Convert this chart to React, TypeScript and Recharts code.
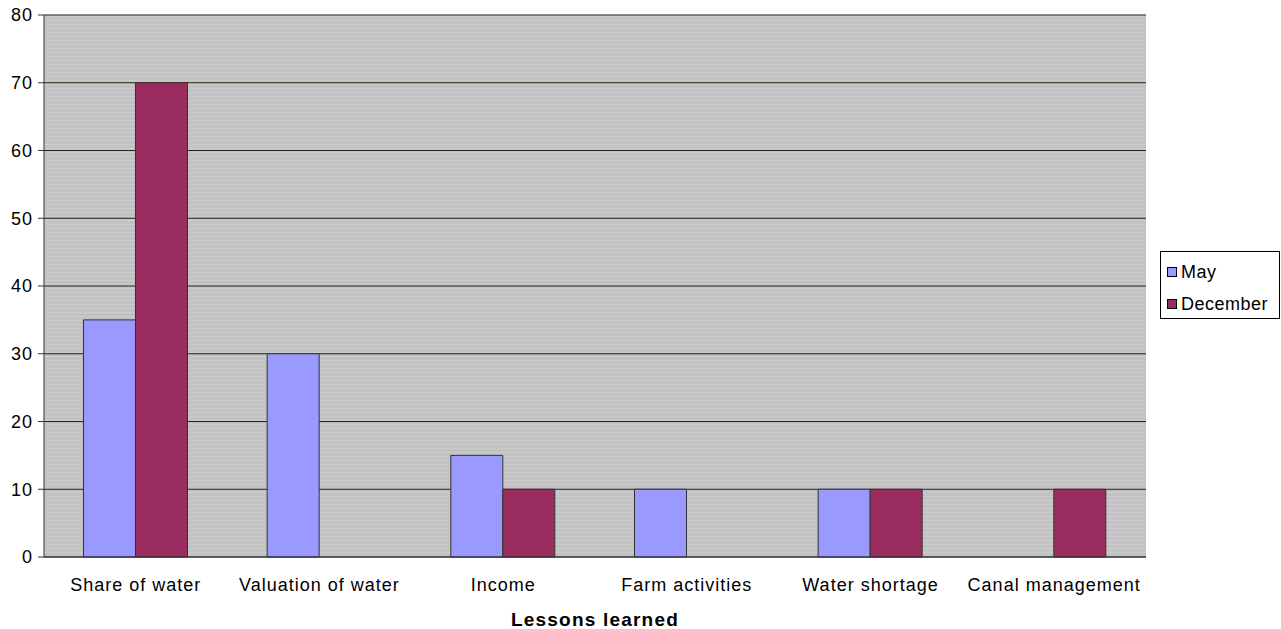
import React from 'react';
import {
  BarChart,
  Bar,
  XAxis,
  YAxis,
  CartesianGrid,
} from 'recharts';

const lessons = [
  'Share of water',
  'Valuation of water',
  'Income',
  'Farm activities',
  'Water shortage',
  'Canal management',
];
const mayValues = [35, 30, 15, 10, 10, 0];
const decemberValues = [70, 0, 10, 0, 10, 10];
const yTicks = [0, 10, 20, 30, 40, 50, 60, 70, 80];
const edgeTicks = [0, 1, 2, 3, 4, 5, 6];

const series = [
  { key: 'may', name: 'May', color: '#9999ff' },
  { key: 'december', name: 'December', color: '#9b2c5f' },
];

const data = lessons.map((name, i) => ({
  name,
  may: mayValues[i],
  december: decemberValues[i],
}));

const font = 'Arial, "Liberation Sans", sans-serif';
const tickStyle = { fill: '#000', fontSize: 18, fontFamily: font, letterSpacing: 1 };

export default function App() {
  return (
    <div style={{ position: 'relative', width: 1281, height: 629, background: '#fff' }}>
      <style>{'body{margin:0}'}</style>
      <BarChart
        width={1281}
        height={629}
        data={data}
        margin={{ top: 15, right: 135, bottom: 0, left: 0 }}
        barCategoryGap="21.5%"
        barGap={0}
      >
        <defs>
          <pattern id="stripes" width="4" height="4" patternUnits="userSpaceOnUse">
            <rect width="4" height="4" fill="#c4c4c5" />
            <rect width="4" height="1" fill="#cbcbc3" />
            <rect y="2" width="4" height="1" fill="#bfbfc9" />
          </pattern>
        </defs>
        <CartesianGrid
          vertical={false}
          stroke="#222"
          strokeWidth={1}
          fill="url(#stripes)"
          fillOpacity={1}
        />
        <XAxis
          dataKey="name"
          tick={tickStyle}
          tickLine={false}
          axisLine={{ stroke: '#333' }}
          interval={0}
          tickMargin={15}
          height={72}
          label={{
            value: 'Lessons learned',
            position: 'insideBottom',
            offset: 3,
            style: {
              fill: '#000',
              fontSize: 19,
              fontWeight: 'bold',
              fontFamily: font,
              letterSpacing: 1.2,
            },
          }}
        />
        <XAxis
          xAxisId="edges"
          type="number"
          domain={[0, 6]}
          ticks={edgeTicks}
          tick={false}
          tickSize={5}
          tickLine={{ stroke: '#333' }}
          axisLine={false}
          height={0}
        />
        <YAxis
          domain={[0, 80]}
          ticks={yTicks}
          width={44}
          tick={tickStyle}
          tickSize={6}
          tickMargin={5}
          tickLine={{ stroke: '#333' }}
          axisLine={{ stroke: '#333' }}
        />
        {series.map((s) => (
          <Bar
            key={s.key}
            dataKey={s.key}
            name={s.name}
            fill={s.color}
            stroke="#333"
            strokeWidth={1}
            isAnimationActive={false}
          />
        ))}
      </BarChart>
      <div
        style={{
          position: 'absolute',
          left: 1160,
          top: 251,
          width: 120,
          height: 68,
          boxSizing: 'border-box',
          border: '1px solid #000',
          background: '#fff',
          padding: '4px 0 0 6px',
          fontFamily: font,
          fontSize: 18,
          letterSpacing: 0.5,
          color: '#000',
        }}
      >
        {series.map((s) => (
          <div key={s.key} style={{ display: 'flex', alignItems: 'center', height: 32 }}>
            <span
              style={{
                display: 'inline-block',
                width: 10,
                height: 10,
                boxSizing: 'border-box',
                background: s.color,
                border: '1px solid #000',
                marginRight: 4,
              }}
            />
            {s.name}
          </div>
        ))}
      </div>
    </div>
  );
}
